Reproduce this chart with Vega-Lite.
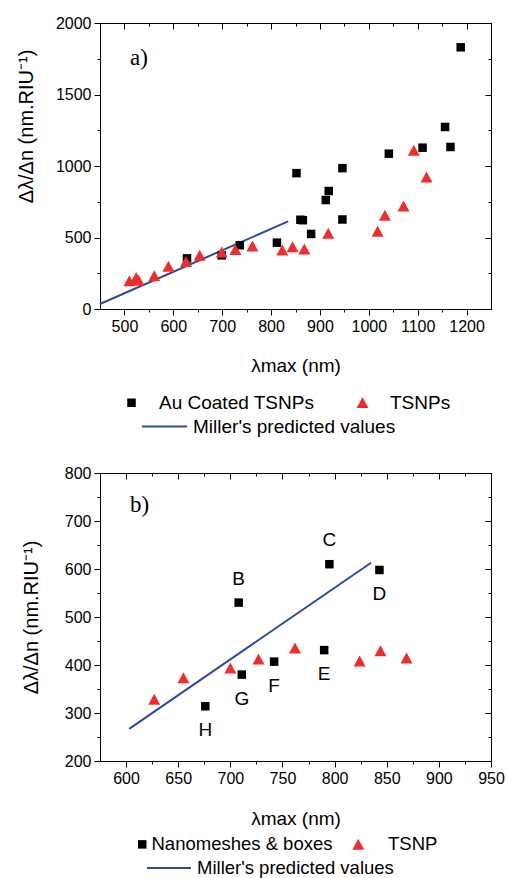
{
  "$schema": "https://vega.github.io/schema/vega-lite/v6.json",
  "background": "white",
  "padding": {"left": 15, "top": 14, "right": 5, "bottom": 0},
  "config": {
    "font": "Liberation Sans",
    "view": {"stroke": "black", "strokeWidth": 1},
    "axis": {"domainColor": "black", "tickColor": "black", "labelColor": "black", "titleColor": "black", "labelFont": "Liberation Sans", "titleFont": "Liberation Sans", "labelFontSize": 16, "titleFontSize": 20, "titleFontWeight": "normal", "grid": false, "tickWidth": 1, "domainWidth": 1, "labelPadding": 3, "labelOverlap": false, "labelFlush": false},
    "legend": {"labelFont": "Liberation Sans", "labelFontSize": 19, "labelColor": "black", "padding": 0, "labelLimit": 400}
  },
  "datasets": {
    "a_pts": [
      {"lam": 628, "s": 354, "series": "Au Coated TSNPs"},
      {"lam": 699, "s": 375, "series": "Au Coated TSNPs"},
      {"lam": 736, "s": 446, "series": "Au Coated TSNPs"},
      {"lam": 812, "s": 464, "series": "Au Coated TSNPs"},
      {"lam": 852, "s": 950, "series": "Au Coated TSNPs"},
      {"lam": 860, "s": 624, "series": "Au Coated TSNPs"},
      {"lam": 865, "s": 621, "series": "Au Coated TSNPs"},
      {"lam": 882, "s": 525, "series": "Au Coated TSNPs"},
      {"lam": 912, "s": 762, "series": "Au Coated TSNPs"},
      {"lam": 918, "s": 825, "series": "Au Coated TSNPs"},
      {"lam": 946, "s": 985, "series": "Au Coated TSNPs"},
      {"lam": 946, "s": 626, "series": "Au Coated TSNPs"},
      {"lam": 1041, "s": 1086, "series": "Au Coated TSNPs"},
      {"lam": 1110, "s": 1128, "series": "Au Coated TSNPs"},
      {"lam": 1156, "s": 1273, "series": "Au Coated TSNPs"},
      {"lam": 1167, "s": 1133, "series": "Au Coated TSNPs"},
      {"lam": 1188, "s": 1830, "series": "Au Coated TSNPs"},
      {"lam": 510, "s": 195, "series": "TSNPs"},
      {"lam": 524, "s": 218, "series": "TSNPs"},
      {"lam": 529, "s": 199, "series": "TSNPs"},
      {"lam": 561, "s": 230, "series": "TSNPs"},
      {"lam": 590, "s": 298, "series": "TSNPs"},
      {"lam": 626, "s": 331, "series": "TSNPs"},
      {"lam": 654, "s": 375, "series": "TSNPs"},
      {"lam": 699, "s": 396, "series": "TSNPs"},
      {"lam": 727, "s": 415, "series": "TSNPs"},
      {"lam": 762, "s": 438, "series": "TSNPs"},
      {"lam": 823, "s": 410, "series": "TSNPs"},
      {"lam": 844, "s": 434, "series": "TSNPs"},
      {"lam": 868, "s": 417, "series": "TSNPs"},
      {"lam": 917, "s": 528, "series": "TSNPs"},
      {"lam": 1018, "s": 542, "series": "TSNPs"},
      {"lam": 1033, "s": 654, "series": "TSNPs"},
      {"lam": 1071, "s": 718, "series": "TSNPs"},
      {"lam": 1092, "s": 1109, "series": "TSNPs"},
      {"lam": 1118, "s": 922, "series": "TSNPs"}
    ],
    "a_miller": [
      {"lam": 450, "s": 35, "model": "Miller's predicted values"},
      {"lam": 835, "s": 613, "model": "Miller's predicted values"}
    ],
    "b_pts": [
      {"lam": 708, "s": 530, "series": "Nanomeshes & boxes", "label": "B"},
      {"lam": 795, "s": 610, "series": "Nanomeshes & boxes", "label": "C"},
      {"lam": 843, "s": 598, "series": "Nanomeshes & boxes", "label": "D"},
      {"lam": 790, "s": 431, "series": "Nanomeshes & boxes", "label": "E"},
      {"lam": 742, "s": 407, "series": "Nanomeshes & boxes", "label": "F"},
      {"lam": 711, "s": 380, "series": "Nanomeshes & boxes", "label": "G"},
      {"lam": 676, "s": 314, "series": "Nanomeshes & boxes", "label": "H"},
      {"lam": 627, "s": 328, "series": "TSNP", "label": ""},
      {"lam": 655, "s": 373, "series": "TSNP", "label": ""},
      {"lam": 700, "s": 393, "series": "TSNP", "label": ""},
      {"lam": 727, "s": 412, "series": "TSNP", "label": ""},
      {"lam": 762, "s": 435, "series": "TSNP", "label": ""},
      {"lam": 824, "s": 408, "series": "TSNP", "label": ""},
      {"lam": 844, "s": 429, "series": "TSNP", "label": ""},
      {"lam": 869, "s": 414, "series": "TSNP", "label": ""}
    ],
    "b_miller": [
      {"lam": 603, "s": 267, "model": "Miller's predicted values"},
      {"lam": 835, "s": 613, "model": "Miller's predicted values"}
    ]
  },
  "columns": 1,
  "align": "none",
  "spacing": 26,
  "concat": [
    {
      "width": 391,
      "height": 286,
      "title": {"text": "a)", "anchor": "start", "frame": "group", "offset": -55, "dx": 30, "font": "Liberation Serif", "fontSize": 23, "fontWeight": "normal", "color": "black"},
      "layer": [
        {
          "data": {"name": "a_miller"},
          "mark": {"type": "line", "strokeWidth": 2},
          "encoding": {
            "x": {"field": "lam", "type": "quantitative", "scale": {"domain": [450, 1250], "nice": false, "zero": false},
                  "axis": {"orient": "top", "values": [500, 550, 600, 650, 700, 750, 800, 850, 900, 950, 1000, 1050, 1100, 1150, 1200], "labels": false, "title": null, "tickSize": {"condition": {"test": "datum.value % 100 === 0", "value": -6}, "value": -3}}},
            "y": {"field": "s", "type": "quantitative", "scale": {"domain": [0, 2000], "nice": false},
                  "axis": {"orient": "right", "values": [0, 250, 500, 750, 1000, 1250, 1500, 1750, 2000], "labels": false, "title": null, "tickSize": {"condition": {"test": "datum.value % 500 === 0", "value": -6}, "value": -3}}},
            "stroke": {"field": "model", "type": "nominal", "scale": {"domain": ["Miller's predicted values"], "range": ["#2e4a9e"]},
                       "legend": {"title": null, "orient": "none", "legendX": 41, "legendY": 380, "symbolType": "stroke", "symbolSize": 2025, "symbolStrokeWidth": 2, "labelOffset": 5}}
          }
        },
        {
          "data": {"name": "a_pts"},
          "mark": {"type": "point", "filled": true, "opacity": 1, "strokeWidth": 0, "size": 100},
          "encoding": {
            "x": {"field": "lam", "type": "quantitative", "scale": {"domain": [450, 1250], "nice": false, "zero": false},
                  "axis": {"orient": "bottom", "values": [500, 550, 600, 650, 700, 750, 800, 850, 900, 950, 1000, 1050, 1100, 1150, 1200], "format": "d", "labelExpr": "datum.value % 100 === 0 ? datum.label : ''", "tickSize": {"condition": {"test": "datum.value % 100 === 0", "value": 6}, "value": 3}, "title": "λmax (nm)", "titleFontSize": 19, "titlePadding": 22}},
            "y": {"field": "s", "type": "quantitative", "scale": {"domain": [0, 2000], "nice": false},
                  "axis": {"orient": "left", "values": [0, 250, 500, 750, 1000, 1250, 1500, 1750, 2000], "format": "d", "labelExpr": "datum.value % 500 === 0 ? datum.label : ''", "tickSize": {"condition": {"test": "datum.value % 500 === 0", "value": 6}, "value": 3}, "title": "Δλ/Δn (nm.RIU⁻¹)", "titleX": -64, "titleY": 103}},
            "fill": {"field": "series", "type": "nominal", "scale": {"domain": ["Au Coated TSNPs", "TSNPs"], "range": ["#000000", "#ed2e2e"]},
                     "legend": {"title": null, "orient": "none", "legendX": 22, "legendY": 370, "columns": 2, "direction": "horizontal", "labelOffset": 18, "columnPadding": 38, "symbolSize": 100, "symbolStrokeWidth": 0}},
            "shape": {"field": "series", "type": "nominal", "scale": {"domain": ["Au Coated TSNPs", "TSNPs"], "range": ["M-0.85,-0.85L0.85,-0.85L0.85,0.85L-0.85,0.85Z", "M-1.2,1.05L0,-1.15L1.2,1.05Z"]},
                      "legend": {"title": null, "orient": "none", "legendX": 22, "legendY": 370, "columns": 2, "direction": "horizontal", "labelOffset": 18, "columnPadding": 38, "symbolSize": 100, "symbolStrokeWidth": 0}}
          }
        }
      ],
      "resolve": {"axis": {"x": "independent", "y": "independent"}}
    },
    {
      "width": 391,
      "height": 288,
      "title": {"text": "b)", "anchor": "start", "frame": "group", "offset": -52, "dx": 30, "font": "Liberation Serif", "fontSize": 23, "fontWeight": "normal", "color": "black"},
      "layer": [
        {
          "data": {"name": "b_miller"},
          "mark": {"type": "line", "strokeWidth": 2},
          "encoding": {
            "x": {"field": "lam", "type": "quantitative", "scale": {"domain": [575, 950], "nice": false, "zero": false},
                  "axis": {"orient": "top", "values": [600, 625, 650, 675, 700, 725, 750, 775, 800, 825, 850, 875, 900, 925, 950], "labels": false, "title": null, "tickSize": {"condition": {"test": "datum.value % 50 === 0", "value": -6}, "value": -3}}},
            "y": {"field": "s", "type": "quantitative", "scale": {"domain": [200, 800], "nice": false, "zero": false},
                  "axis": {"orient": "right", "values": [200, 250, 300, 350, 400, 450, 500, 550, 600, 650, 700, 750, 800], "labels": false, "title": null, "tickSize": {"condition": {"test": "datum.value % 100 === 0", "value": -6}, "value": -3}}},
            "stroke": {"field": "model", "type": "nominal", "scale": {"domain": ["Miller's predicted values"], "range": ["#2e4a9e"]},
                       "legend": {"title": null, "orient": "none", "legendX": 46, "legendY": 372, "symbolType": "stroke", "symbolSize": 1936, "symbolStrokeWidth": 2, "labelOffset": 5, "labelFontSize": 18.5}}
          }
        },
        {
          "data": {"name": "b_pts"},
          "mark": {"type": "point", "filled": true, "opacity": 1, "strokeWidth": 0, "size": 100},
          "encoding": {
            "x": {"field": "lam", "type": "quantitative", "scale": {"domain": [575, 950], "nice": false, "zero": false},
                  "axis": {"orient": "bottom", "values": [600, 625, 650, 675, 700, 725, 750, 775, 800, 825, 850, 875, 900, 925, 950], "format": "d", "labelExpr": "datum.value % 50 === 0 ? datum.label : ''", "tickSize": {"condition": {"test": "datum.value % 50 === 0", "value": 6}, "value": 3}, "title": "λmax (nm)", "titleFontSize": 19, "titlePadding": 23}},
            "y": {"field": "s", "type": "quantitative", "scale": {"domain": [200, 800], "nice": false, "zero": false},
                  "axis": {"orient": "left", "values": [200, 250, 300, 350, 400, 450, 500, 550, 600, 650, 700, 750, 800], "format": "d", "labelExpr": "datum.value % 100 === 0 ? datum.label : ''", "tickSize": {"condition": {"test": "datum.value % 100 === 0", "value": 6}, "value": 3}, "title": "Δλ/Δn (nm.RIU⁻¹)", "titleX": -59}},
            "fill": {"field": "series", "type": "nominal", "scale": {"domain": ["Nanomeshes & boxes", "TSNP"], "range": ["#000000", "#ed2e2e"]},
                     "legend": {"title": null, "orient": "none", "legendX": 33, "legendY": 362, "columns": 2, "direction": "horizontal", "labelOffset": 0, "columnPadding": 16, "symbolSize": 100, "symbolStrokeWidth": 0, "labelFontSize": 18.5,
                                "labelExpr": "datum.value === 'TSNP' ? '\u200b\u00a0\u00a0\u00a0\u00a0TSNP' : datum.label"}},
            "shape": {"field": "series", "type": "nominal", "scale": {"domain": ["Nanomeshes & boxes", "TSNP"], "range": ["M-0.85,-0.85L0.85,-0.85L0.85,0.85L-0.85,0.85Z", "M-1.2,1.05L0,-1.15L1.2,1.05Z"]},
                      "legend": {"title": null, "orient": "none", "legendX": 33, "legendY": 362, "columns": 2, "direction": "horizontal", "labelOffset": 0, "columnPadding": 16, "symbolSize": 100, "symbolStrokeWidth": 0, "labelFontSize": 18.5,
                                 "labelExpr": "datum.value === 'TSNP' ? '\u200b\u00a0\u00a0\u00a0\u00a0TSNP' : datum.label"}}
          }
        },
        {
          "data": {"name": "b_pts"},
          "transform": [{"filter": "datum.label === 'B' || datum.label === 'C'"}],
          "mark": {"type": "text", "dy": -24, "fontSize": 19, "font": "Liberation Sans", "color": "black"},
          "encoding": {
            "x": {"field": "lam", "type": "quantitative", "axis": null},
            "y": {"field": "s", "type": "quantitative", "axis": null},
            "text": {"field": "label"}
          }
        },
        {
          "data": {"name": "b_pts"},
          "transform": [{"filter": "datum.label !== '' && datum.label !== 'B' && datum.label !== 'C'"}],
          "mark": {"type": "text", "dy": 24, "fontSize": 19, "font": "Liberation Sans", "color": "black"},
          "encoding": {
            "x": {"field": "lam", "type": "quantitative", "axis": null},
            "y": {"field": "s", "type": "quantitative", "axis": null},
            "text": {"field": "label"}
          }
        }
      ],
      "resolve": {"axis": {"x": "independent", "y": "independent"}}
    }
  ],
  "resolve": {
    "scale": {"x": "independent", "y": "independent", "fill": "independent", "shape": "independent", "stroke": "independent"},
    "legend": {"fill": "independent", "shape": "independent", "stroke": "independent"}
  }
}
